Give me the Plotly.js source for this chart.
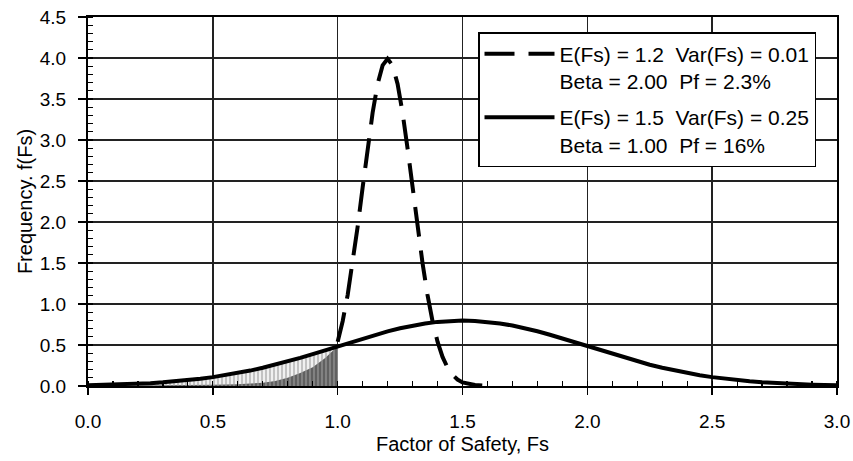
<!DOCTYPE html>
<html>
<head>
<meta charset="utf-8">
<script src="https://cdn.plot.ly/plotly-3.0.1.min.js"></script>
<style>html,body{margin:0;padding:0;background:#fff;}#chart{width:853px;height:461px;}</style>
</head>
<body>
<div id="chart"></div>
<script>
// Solid curve: E(Fs)=1.5, Var(Fs)=0.25 (read at Fs step 0.05)
var solidX = [0.00,0.05,0.10,0.15,0.20,0.25,0.30,0.35,0.40,0.45,0.50,0.55,0.60,0.65,0.70,0.75,0.80,0.85,0.90,0.95,1.00,
              1.05,1.10,1.15,1.20,1.25,1.30,1.35,1.40,1.45,1.50,1.55,1.60,1.65,1.70,1.75,1.80,1.85,1.90,1.95,2.00,
              2.05,2.10,2.15,2.20,2.25,2.30,2.35,2.40,2.45,2.50,2.55,2.60,2.65,2.70,2.75,2.80,2.85,2.90,2.95,3.00];
var solidY = [0.009,0.012,0.016,0.021,0.027,0.035,0.045,0.057,0.071,0.088,0.108,0.131,0.158,0.188,0.222,0.259,0.300,0.343,0.388,0.436,0.484,
              0.532,0.579,0.625,0.667,0.704,0.737,0.763,0.782,0.794,0.798,0.794,0.782,0.763,0.737,0.704,0.667,0.625,0.579,0.532,0.484,
              0.436,0.388,0.343,0.300,0.259,0.222,0.188,0.158,0.131,0.108,0.088,0.071,0.057,0.045,0.035,0.027,0.021,0.016,0.012,0.009];
// Dashed curve: E(Fs)=1.2, Var(Fs)=0.01
var dashX = [1.00,1.02,1.04,1.06,1.08,1.10,1.12,1.14,1.16,1.18,1.20,1.22,1.24,1.26,1.28,1.30,1.32,1.34,1.36,1.38,1.40,
             1.42,1.44,1.46,1.48,1.50,1.55,1.60];
var dashY = [0.540,0.790,1.109,1.497,1.942,2.420,2.897,3.332,3.683,3.910,3.989,3.910,3.683,3.332,2.897,2.420,1.942,1.497,1.109,0.790,0.540,
             0.355,0.224,0.136,0.079,0.044,0.012,0.004];
// Dark shaded failure region (Fs < 1.0)
var darkX = [0.00,0.10,0.20,0.30,0.40,0.50,0.55,0.60,0.65,0.70,0.75,0.80,0.85,0.90,0.95,1.00];
var darkY = [0.005,0.006,0.007,0.009,0.011,0.014,0.017,0.022,0.030,0.040,0.060,0.100,0.160,0.230,0.340,0.484];
// Light shaded region under the solid curve, Fs from 0 to 1.0
var lightCount = 21;

var legendDashed = 'E(Fs) = 1.2\u00a0\u00a0Var(Fs) = 0.01<br>Beta = 2.00\u00a0\u00a0Pf = 2.3%';
var legendSolid = 'E(Fs) = 1.5\u00a0\u00a0Var(Fs) = 0.25<br>Beta = 1.00\u00a0\u00a0Pf = 16%';

var traces = [
  {x: solidX.slice(0, lightCount), y: solidY.slice(0, lightCount), type: 'scatter', mode: 'none',
   fill: 'tozeroy', fillcolor: '#e4e4e4',
   fillpattern: {shape: '|', size: 4, solidity: 0.45, fgcolor: '#bdbdbd', bgcolor: '#f0f0f0'},
   showlegend: false, hoverinfo: 'skip'},
  {x: darkX, y: darkY, type: 'scatter', mode: 'none', fill: 'tozeroy', fillcolor: '#6e6e6e',
   fillpattern: {shape: '|', size: 4, solidity: 0.4, fgcolor: '#8a8a8a', bgcolor: '#606060'},
   showlegend: false, hoverinfo: 'skip'},
  {x: dashX, y: dashY, type: 'scatter', mode: 'lines', name: legendDashed, legendgroup: 'a',
   line: {color: '#000', width: 4, dash: '30px,14px'}},
  {x: solidX, y: solidY, type: 'scatter', mode: 'lines', name: legendSolid, legendgroup: 'b',
   line: {color: '#000', width: 4}}
];

var fontFam = '"Liberation Sans", Arial, sans-serif';
var layout = {
  width: 853, height: 461,
  margin: {l: 88, r: 16, t: 17, b: 75},
  paper_bgcolor: '#fff', plot_bgcolor: '#fff',
  font: {family: fontFam, color: '#000', size: 19},
  showlegend: true,
  legend: {
    x: 0.5207, y: 0.9593, xanchor: 'left', yanchor: 'top',
    bgcolor: '#fff', bordercolor: '#000', borderwidth: 1.5,
    font: {family: fontFam, size: 21, color: '#000'},
    itemwidth: 70, valign: 'top', traceorder: 'grouped', tracegroupgap: 6
  },
  xaxis: {
    range: [0, 3], dtick: 0.5, tick0: 0, tickformat: '.1f',
    showgrid: true, gridcolor: '#222', gridwidth: 1.5,
    showline: true, linecolor: '#000', linewidth: 2, mirror: true,
    ticks: 'outside', ticklen: 7, tickwidth: 1.5, tickcolor: '#000',
    ticklabelstandoff: 10,
    minor: {dtick: 0.1, ticks: 'inside', ticklen: 5, tickwidth: 1.2, tickcolor: '#000', showgrid: false},
    zeroline: false,
    tickfont: {size: 19},
    title: {text: 'Factor of Safety, Fs', font: {size: 20}, standoff: 6}
  },
  yaxis: {
    range: [0, 4.5], dtick: 0.5, tick0: 0, tickformat: '.1f',
    showgrid: true, gridcolor: '#222', gridwidth: 1.5,
    showline: true, linecolor: '#000', linewidth: 2, mirror: true,
    ticks: 'outside', ticklen: 8, tickwidth: 1.5, tickcolor: '#000',
    ticklabelstandoff: 8,
    minor: {dtick: 0.1, ticks: 'inside', ticklen: 5, tickwidth: 1.2, tickcolor: '#000', showgrid: false},
    zeroline: false,
    tickfont: {size: 19},
    title: {text: 'Frequency. f(Fs)', font: {size: 20}, standoff: 2}
  }
};

Plotly.newPlot('chart', traces, layout, {displayModeBar: false, staticPlot: true});
</script>
</body>
</html>
